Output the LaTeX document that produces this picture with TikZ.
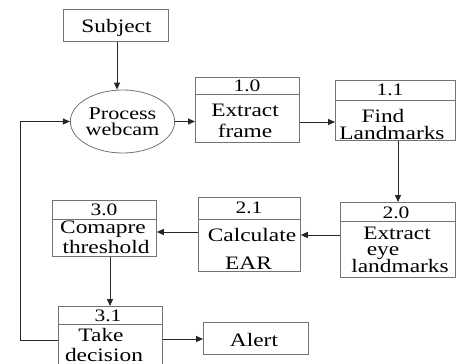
\documentclass[tikz,border=0pt]{standalone}
\usepackage{fontspec}
\setmainfont[FakeStretch=1.23]{Liberation Serif}
\usetikzlibrary{arrows.meta,calc,shapes.geometric}
\begin{document}
\begin{tikzpicture}[x=1pt,y=-1pt,
  frame/.style={draw=black!55, line width=0.8pt, inner sep=0pt, anchor=north west},
  oval/.style={draw=black!55, line width=0.8pt, ellipse, inner sep=0pt, align=center,
    text=black, font=\fontsize{18}{15.5}\selectfont, minimum width=91pt, minimum height=63pt},
  txt/.style={inner sep=0pt, anchor=base, text=black, font=\fontsize{19}{19}\selectfont},
  num/.style={inner sep=0pt, anchor=base, text=black, font=\fontsize{17.5}{17.5}\selectfont},
  arr/.style={draw=black!85, line width=0.9pt, -{Triangle[length=7pt,width=6pt]}},
]
\useasboundingbox (0,0) rectangle (456,364);

% frames
\node[frame, minimum width=105pt, minimum height=32pt] (subj) at (63,9) {};
\node[oval] (pw) at (122.5,121.5) {Process\\webcam};

\node[frame, minimum width=104pt, minimum height=17pt] (h10) at (195,77) {};
\node[frame, minimum width=104pt, minimum height=48pt] (b10) at (195,94) {};

\node[frame, minimum width=120pt, minimum height=20pt] (h11) at (335,80) {};
\node[frame, minimum width=120pt, minimum height=40pt] (b11) at (335,100) {};

\node[frame, minimum width=115pt, minimum height=19pt] (h20) at (340,202) {};
\node[frame, minimum width=115pt, minimum height=56pt] (b20) at (340,221) {};

\node[frame, minimum width=102pt, minimum height=22pt] (h21) at (198,197) {};
\node[frame, minimum width=102pt, minimum height=52pt] (b21) at (198,219) {};

\node[frame, minimum width=104pt, minimum height=19pt] (h30) at (52,200) {};
\node[frame, minimum width=104pt, minimum height=37pt] (b30) at (52,219) {};

\node[frame, minimum width=104pt, minimum height=18pt] (h31) at (58,306) {};
\node[frame, minimum width=104pt, minimum height=39.5pt] (b31) at (58,324) {};

\node[frame, minimum width=105pt, minimum height=32pt] (alert) at (203,322) {};

% texts
\node[txt] (tsubj) at (116.5,32.3) {Subject};
\node[num] (n10) at (247,91) {1.0};
\node[txt] (t10a) at (245,116.7) {Extract};
\node[txt] (t10b) at (245,137.7) {frame};
\node[num] (n11) at (390,95) {1.1};
\node[txt] (t11a) at (383,122) {Find};
\node[txt] (t11b) at (392,139) {Landmarks};
\node[num] (n20) at (396,218) {2.0};
\node[txt] (t20a) at (397,239.5) {Extract};
\node[txt] (t20b) at (383,255.5) {eye};
\node[txt] (t20c) at (400,272) {landmarks};
\node[num] (n21) at (249,213.5) {2.1};
\node[txt] (t21a) at (252,241.7) {Calculate};
\node[txt] (t21b) at (248.5,269) {EAR};
\node[num] (n30) at (104,215.5) {3.0};
\node[txt] (t30a) at (103,233) {Comapre};
\node[txt] (t30b) at (106,253) {threshold};
\node[num] (n31) at (108,321.5) {3.1};
\node[txt] (t31a) at (101,341.7) {Take};
\node[txt] (t31b) at (104,361.5) {decision};
\node[txt] (talert) at (254,346.3) {Alert};

% connectors
\coordinate (fb1) at (20,340);
\coordinate (fb2) at (20,121.5);

\draw[arr] (subj.south -| 117,0) -- (pw.north -| 117,0);
\draw[arr] (pw.east) -- (pw.east -| b10.west);
\draw[arr] (b10.east |- 0,122) -- (b11.west |- 0,122);
\draw[arr] (b11.south -| 398,0) -- (h20.north -| 398,0);
\draw[arr] (b20.west |- 0,235) -- (b21.east |- 0,235);
\draw[arr] (b21.west |- 0,232) -- (b30.east |- 0,232);
\draw[arr] (b30.south -| 110,0) -- (h31.north -| 110,0);
\draw[arr] (b31.east |- 0,339) -- (alert.west |- 0,339);
\draw[arr] (b31.west |- fb1) -- (fb1) -- (fb2) -- (pw.west);
\end{tikzpicture}
\end{document}
